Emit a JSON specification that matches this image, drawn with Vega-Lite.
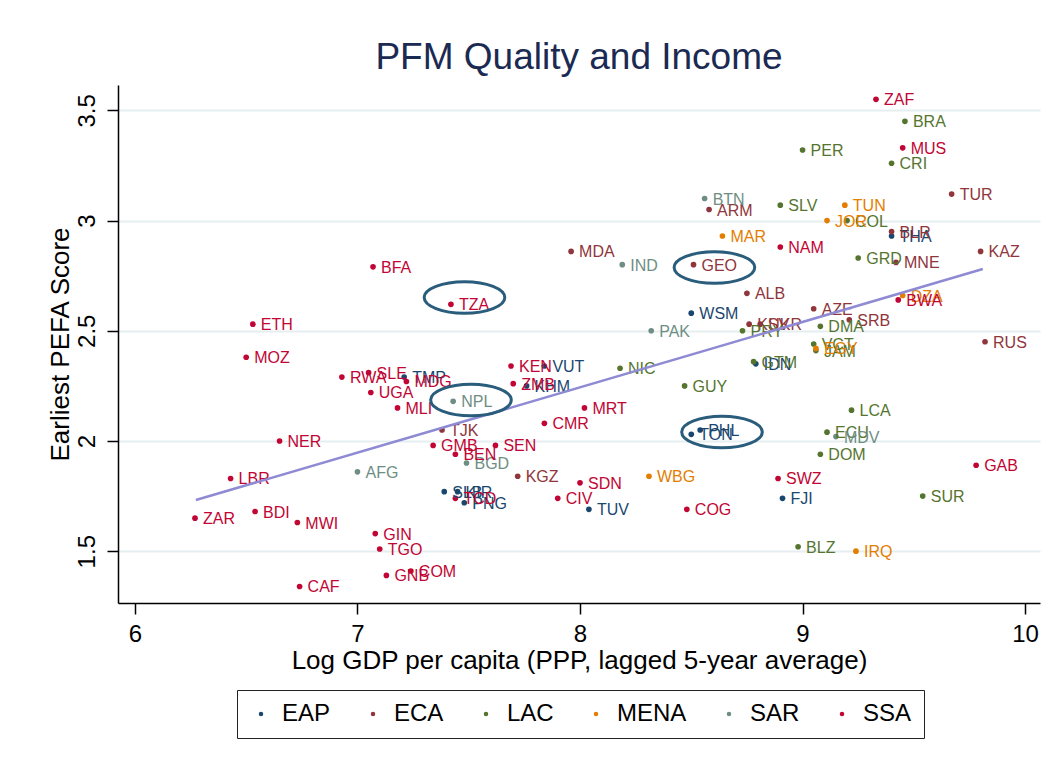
{
  "$schema": "https://vega.github.io/schema/vega-lite/v6.json",
  "autosize": {"type": "none"},
  "padding": {"left": 118, "top": 85, "right": 10, "bottom": 167},
  "width": 922,
  "height": 518,
  "background": "white",
  "title": {"text": "PFM Quality and Income", "font": "Liberation Sans", "fontSize": 37, "fontWeight": "normal", "color": "#1b2a52", "offset": 8, "anchor": "middle"},
  "config": {
    "view": {"stroke": null},
    "font": "Liberation Sans",
    "axis": {"domainColor": "black", "domainWidth": 1.5, "tickColor": "black", "tickWidth": 1.5, "tickSize": 11, "labelFont": "Liberation Sans", "titleFont": "Liberation Sans", "labelFontSize": 24, "titleFontSize": 26, "titleFontWeight": "normal", "labelColor": "black", "titleColor": "black"},
    "legend": {"strokeColor": "#222222", "padding": 12}
  },
  "datasets": {
    "pts": [
      {"c": "WSM", "r": "EAP", "x": 8.50, "y": 2.58},
      {"c": "TMP", "r": "EAP", "x": 7.21, "y": 2.29},
      {"c": "KHM", "r": "EAP", "x": 7.76, "y": 2.25},
      {"c": "VUT", "r": "EAP", "x": 7.84, "y": 2.34},
      {"c": "PHL", "r": "EAP", "x": 8.54, "y": 2.05},
      {"c": "TON", "r": "EAP", "x": 8.50, "y": 2.03},
      {"c": "SLB", "r": "EAP", "x": 7.39, "y": 1.77},
      {"c": "KIR", "r": "EAP", "x": 7.45, "y": 1.77},
      {"c": "PNG", "r": "EAP", "x": 7.48, "y": 1.72},
      {"c": "TUV", "r": "EAP", "x": 8.04, "y": 1.69},
      {"c": "FJI", "r": "EAP", "x": 8.91, "y": 1.74},
      {"c": "IDN", "r": "EAP", "x": 8.79, "y": 2.35},
      {"c": "THA", "r": "EAP", "x": 9.40, "y": 2.93},
      {"c": "ARM", "r": "ECA", "x": 8.58, "y": 3.05},
      {"c": "TUR", "r": "ECA", "x": 9.67, "y": 3.12},
      {"c": "BLR", "r": "ECA", "x": 9.40, "y": 2.95},
      {"c": "KAZ", "r": "ECA", "x": 9.80, "y": 2.86},
      {"c": "MNE", "r": "ECA", "x": 9.42, "y": 2.81},
      {"c": "GEO", "r": "ECA", "x": 8.51, "y": 2.80},
      {"c": "MDA", "r": "ECA", "x": 7.96, "y": 2.86},
      {"c": "ALB", "r": "ECA", "x": 8.75, "y": 2.67},
      {"c": "AZE", "r": "ECA", "x": 9.05, "y": 2.60},
      {"c": "SRB", "r": "ECA", "x": 9.21, "y": 2.55},
      {"c": "KSV", "r": "ECA", "x": 8.76, "y": 2.53},
      {"c": "UKR", "r": "ECA", "x": 8.81, "y": 2.53},
      {"c": "RUS", "r": "ECA", "x": 9.82, "y": 2.45},
      {"c": "TJK", "r": "ECA", "x": 7.38, "y": 2.05},
      {"c": "KGZ", "r": "ECA", "x": 7.72, "y": 1.84},
      {"c": "BRA", "r": "LAC", "x": 9.46, "y": 3.45},
      {"c": "PER", "r": "LAC", "x": 9.00, "y": 3.32},
      {"c": "CRI", "r": "LAC", "x": 9.40, "y": 3.26},
      {"c": "SLV", "r": "LAC", "x": 8.90, "y": 3.07},
      {"c": "COL", "r": "LAC", "x": 9.20, "y": 3.00},
      {"c": "GRD", "r": "LAC", "x": 9.25, "y": 2.83},
      {"c": "DMA", "r": "LAC", "x": 9.08, "y": 2.52},
      {"c": "PRY", "r": "LAC", "x": 8.73, "y": 2.50},
      {"c": "VCT", "r": "LAC", "x": 9.05, "y": 2.44},
      {"c": "JAM", "r": "LAC", "x": 9.06, "y": 2.41},
      {"c": "GTM", "r": "LAC", "x": 8.78, "y": 2.36},
      {"c": "NIC", "r": "LAC", "x": 8.18, "y": 2.33},
      {"c": "GUY", "r": "LAC", "x": 8.47, "y": 2.25},
      {"c": "LCA", "r": "LAC", "x": 9.22, "y": 2.14},
      {"c": "ECU", "r": "LAC", "x": 9.11, "y": 2.04},
      {"c": "DOM", "r": "LAC", "x": 9.08, "y": 1.94},
      {"c": "SUR", "r": "LAC", "x": 9.54, "y": 1.75},
      {"c": "BLZ", "r": "LAC", "x": 8.98, "y": 1.52},
      {"c": "TUN", "r": "MENA", "x": 9.19, "y": 3.07},
      {"c": "JOR", "r": "MENA", "x": 9.11, "y": 3.00},
      {"c": "MAR", "r": "MENA", "x": 8.64, "y": 2.93},
      {"c": "DZA", "r": "MENA", "x": 9.45, "y": 2.66},
      {"c": "EGY", "r": "MENA", "x": 9.06, "y": 2.42},
      {"c": "WBG", "r": "MENA", "x": 8.31, "y": 1.84},
      {"c": "IRQ", "r": "MENA", "x": 9.24, "y": 1.50},
      {"c": "BTN", "r": "SAR", "x": 8.56, "y": 3.10},
      {"c": "IND", "r": "SAR", "x": 8.19, "y": 2.80},
      {"c": "PAK", "r": "SAR", "x": 8.32, "y": 2.50},
      {"c": "NPL", "r": "SAR", "x": 7.43, "y": 2.18},
      {"c": "MDV", "r": "SAR", "x": 9.15, "y": 2.02},
      {"c": "BGD", "r": "SAR", "x": 7.49, "y": 1.90},
      {"c": "AFG", "r": "SAR", "x": 7.00, "y": 1.86},
      {"c": "ZAF", "r": "SSA", "x": 9.33, "y": 3.55},
      {"c": "MUS", "r": "SSA", "x": 9.45, "y": 3.33},
      {"c": "NAM", "r": "SSA", "x": 8.90, "y": 2.88},
      {"c": "BWA", "r": "SSA", "x": 9.43, "y": 2.64},
      {"c": "BFA", "r": "SSA", "x": 7.07, "y": 2.79},
      {"c": "TZA", "r": "SSA", "x": 7.42, "y": 2.62},
      {"c": "ETH", "r": "SSA", "x": 6.53, "y": 2.53},
      {"c": "MOZ", "r": "SSA", "x": 6.50, "y": 2.38},
      {"c": "RWA", "r": "SSA", "x": 6.93, "y": 2.29},
      {"c": "SLE", "r": "SSA", "x": 7.05, "y": 2.31},
      {"c": "MDG", "r": "SSA", "x": 7.22, "y": 2.27},
      {"c": "UGA", "r": "SSA", "x": 7.06, "y": 2.22},
      {"c": "MLI", "r": "SSA", "x": 7.18, "y": 2.15},
      {"c": "KEN", "r": "SSA", "x": 7.69, "y": 2.34},
      {"c": "ZMB", "r": "SSA", "x": 7.70, "y": 2.26},
      {"c": "MRT", "r": "SSA", "x": 8.02, "y": 2.15},
      {"c": "CMR", "r": "SSA", "x": 7.84, "y": 2.08},
      {"c": "NER", "r": "SSA", "x": 6.65, "y": 2.00},
      {"c": "GMB", "r": "SSA", "x": 7.34, "y": 1.98},
      {"c": "SEN", "r": "SSA", "x": 7.62, "y": 1.98},
      {"c": "BEN", "r": "SSA", "x": 7.44, "y": 1.94},
      {"c": "LBR", "r": "SSA", "x": 6.43, "y": 1.83},
      {"c": "SDN", "r": "SSA", "x": 8.00, "y": 1.81},
      {"c": "TCD", "r": "SSA", "x": 7.44, "y": 1.74},
      {"c": "CIV", "r": "SSA", "x": 7.90, "y": 1.74},
      {"c": "COG", "r": "SSA", "x": 8.48, "y": 1.69},
      {"c": "SWZ", "r": "SSA", "x": 8.89, "y": 1.83},
      {"c": "GAB", "r": "SSA", "x": 9.78, "y": 1.89},
      {"c": "ZAR", "r": "SSA", "x": 6.27, "y": 1.65},
      {"c": "BDI", "r": "SSA", "x": 6.54, "y": 1.68},
      {"c": "MWI", "r": "SSA", "x": 6.73, "y": 1.63},
      {"c": "GIN", "r": "SSA", "x": 7.08, "y": 1.58},
      {"c": "TGO", "r": "SSA", "x": 7.10, "y": 1.51},
      {"c": "GNB", "r": "SSA", "x": 7.13, "y": 1.39},
      {"c": "COM", "r": "SSA", "x": 7.24, "y": 1.41},
      {"c": "CAF", "r": "SSA", "x": 6.74, "y": 1.34}
    ],
    "fit": [
      {"x": 6.274, "y": 1.732},
      {"x": 9.81, "y": 2.78}
    ],
    "rings": [
      {"c": "TZA", "x": 7.481, "y": 2.651},
      {"c": "NPL", "x": 7.510, "y": 2.186},
      {"c": "GEO", "x": 8.604, "y": 2.787},
      {"c": "PHL", "x": 8.638, "y": 2.041}
    ]
  },
  "layer": [
    {
      "data": {"name": "pts"},
      "mark": {"type": "point", "shape": "circle", "filled": true, "opacity": 1, "size": 32},
      "encoding": {
        "x": {"field": "x", "type": "quantitative", "scale": {"domain": [5.924, 10.067], "nice": false, "zero": false},
              "axis": {"values": [6, 7, 8, 9, 10], "format": "~g", "grid": false, "labelPadding": 8, "title": "Log GDP per capita (PPP, lagged 5-year average)", "titlePadding": 1}},
        "y": {"field": "y", "type": "quantitative", "scale": {"domain": [1.265, 3.615], "nice": false, "zero": false},
              "axis": {"values": [1.5, 2, 2.5, 3, 3.5], "format": "~g", "grid": true, "gridColor": "#e5eef0", "gridWidth": 2, "labelAngle": -90, "labelAlign": "center", "labelBaseline": "bottom", "labelPadding": 8, "title": "Earliest PEFA Score", "titlePadding": 2}},
        "color": {"field": "r", "type": "nominal",
                  "scale": {"domain": ["EAP", "ECA", "LAC", "MENA", "SAR", "SSA"], "range": ["#1a476f", "#90353b", "#55752f", "#e37e00", "#6e8e84", "#c10534"]},
                  "legend": {"title": null, "orient": "none", "legendX": 119, "legendY": 605, "direction": "horizontal", "symbolType": "circle", "symbolSize": 20, "symbolStrokeWidth": 0, "labelFont": "Liberation Sans", "labelFontSize": 24, "labelColor": "black", "labelOffset": 9, "columnPadding": 30}}
      }
    },
    {
      "data": {"name": "pts"},
      "mark": {"type": "text", "align": "left", "baseline": "middle", "dx": 8, "dy": 1, "fontSize": 16, "font": "Liberation Sans"},
      "encoding": {
        "x": {"field": "x", "type": "quantitative"},
        "y": {"field": "y", "type": "quantitative"},
        "text": {"field": "c"},
        "color": {"field": "r", "type": "nominal"}
      }
    },
    {
      "data": {"name": "fit"},
      "mark": {"type": "line", "color": "#8f8ad4", "strokeWidth": 2.5},
      "encoding": {
        "x": {"field": "x", "type": "quantitative"},
        "y": {"field": "y", "type": "quantitative"}
      }
    },
    {
      "data": {"name": "rings"},
      "mark": {"type": "point", "shape": "M -1 0 A 1 0.39 0 1 1 1 0 A 1 0.39 0 1 1 -1 0 Z", "filled": false, "size": 6500, "stroke": "#2a5d7c", "strokeWidth": 3, "opacity": 1},
      "encoding": {
        "x": {"field": "x", "type": "quantitative"},
        "y": {"field": "y", "type": "quantitative"}
      }
    }
  ]
}
